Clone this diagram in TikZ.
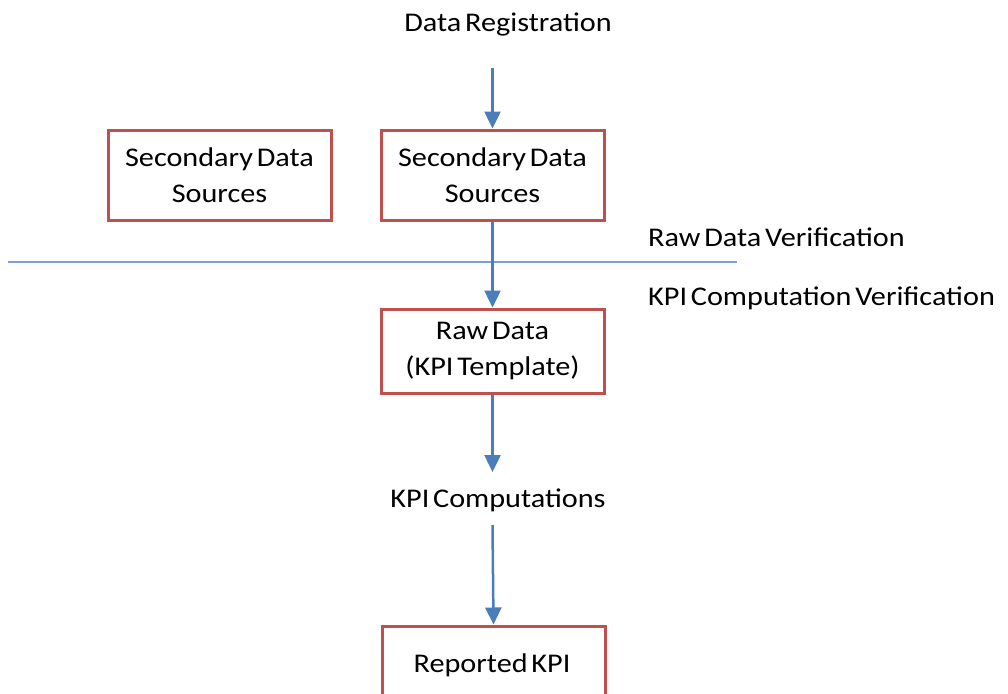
\documentclass[tikz,border=0pt]{standalone}
\usepackage{fontspec}
\setmainfont{Carlito}[FakeStretch=1.12, WordSpace=0.55]
\usetikzlibrary{arrows.meta}
\definecolor{boxred}{HTML}{C0504D}
\definecolor{arrblue}{HTML}{4A7EBB}
\definecolor{lineblue}{HTML}{7BA1D4}
\tikzset{
  box/.style={draw=boxred, line width=3pt, minimum width=223pt, minimum height=90pt, align=center, inner sep=0pt, font=\fontsize{27}{36}\selectfont},
  lbl/.style={font=\fontsize{27}{36}\selectfont, inner sep=0pt},
  flow/.style={draw=arrblue, line width=2.5pt, -{Triangle[length=17pt,width=16pt]}, shorten >=0pt}
}
\begin{document}
\begin{tikzpicture}[x=1pt,y=-1pt]
\useasboundingbox (0,0) rectangle (1008,693);
\node[lbl] (reg) at (508,24) {Data Registration};
\node[box] (sec1) at (219.5,175) {Secondary Data\\Sources};
\node[box] (sec2) at (492.5,175) {Secondary Data\\Sources};
\node[box, minimum height=84pt] (raw) at (492.5,351) {Raw Data\\(KPI Template)};
\node[lbl] (comp) at (498,500) {KPI Computations};
\node[box, minimum height=110pt, text depth=0pt] (rep) at (493.5,681) {};
\node[lbl] (repl) at (492,665) {Reported KPI};
\node[lbl, anchor=west] (rdv) at (648,237) {Raw Data Verification};
\node[lbl, anchor=west] (kcv) at (648,298) {KPI Computation Verification};
\coordinate (hl) at (8,262);
\coordinate (hr) at (737,262);
\draw[lineblue, line width=1.5pt] (hl) -- (hr);
\coordinate (a0) at (492.5,68);
\coordinate (c0) at (492.5,525);
\draw[flow] (a0) -- (sec2.north);
\draw[flow] (sec2.south) -- (raw.north);
\draw[flow] (raw.south) -- (492.5,472);
\draw[flow] (c0) -- (rep.north);
\end{tikzpicture}
\end{document}
